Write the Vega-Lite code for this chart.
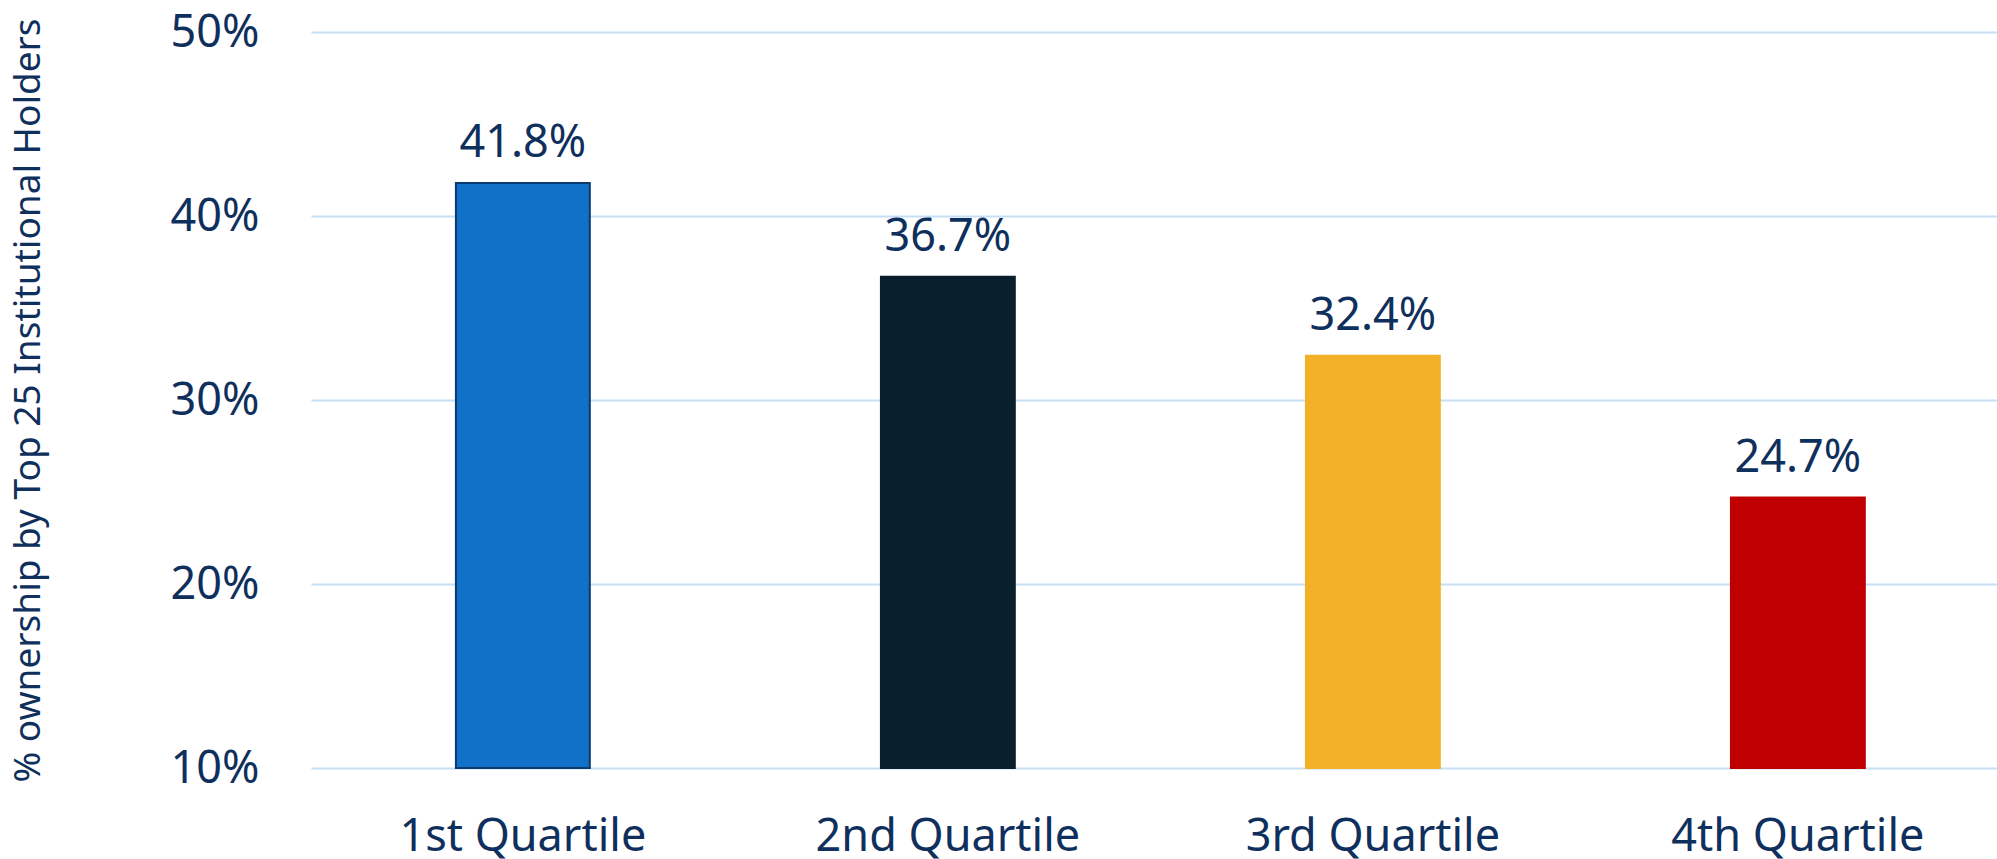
{
  "$schema": "https://vega.github.io/schema/vega-lite/v6.json",
  "autosize": {"type": "none"},
  "padding": {"left": 311, "top": 32, "right": 0, "bottom": 91},
  "width": 1686,
  "height": 736,
  "background": "white",
  "config": {"view": {"stroke": null}, "font": "Noto Sans"},
  "data": {"values": [
    {"quartile": "1st Quartile", "pct": 0.418},
    {"quartile": "2nd Quartile", "pct": 0.367},
    {"quartile": "3rd Quartile", "pct": 0.324},
    {"quartile": "4th Quartile", "pct": 0.247}
  ]},
  "encoding": {
    "x": {"field": "quartile", "type": "nominal", "sort": null,
      "scale": {"paddingInner": 0.685, "paddingOuter": 0.326, "align": 0.523},
      "axis": {"title": null, "labelAngle": 0, "domain": false, "ticks": false, "labelLimit": 0,
        "labelFont": "Noto Sans", "labelFontSize": 45, "labelColor": "#0F2F5C", "labelPadding": 46}},
    "y": {"field": "pct", "type": "quantitative",
      "scale": {"domain": [0.1, 0.5], "nice": false, "zero": false},
      "axis": {"title": "% ownership by Top 25 Institutional Holders", "titleFont": "Noto Sans",
        "titleFontSize": 37, "titleFontWeight": "normal", "titleColor": "#0F2F5C", "titlePadding": 123,
        "values": [0.1, 0.2, 0.3, 0.4, 0.5], "format": ".0%",
        "labelFont": "Noto Sans", "labelFontSize": 45, "labelColor": "#0F2F5C", "labelPadding": 52,
        "domain": false, "ticks": false, "grid": true, "gridColor": "#C5DDF5", "gridWidth": 2}}
  },
  "layer": [
    {"mark": {"type": "bar", "strokeWidth": 2},
      "encoding": {
        "y2": {"datum": 0.1},
        "color": {"field": "quartile", "type": "nominal", "legend": null,
          "scale": {"domain": ["1st Quartile", "2nd Quartile", "3rd Quartile", "4th Quartile"],
            "range": ["#1170C8", "#0A1F2C", "#F2B126", "#C00000"]}},
        "stroke": {"field": "quartile", "type": "nominal", "legend": null,
          "scale": {"domain": ["1st Quartile", "2nd Quartile", "3rd Quartile", "4th Quartile"],
            "range": ["#0B3A6E", "#0A1F2C", "#F2B126", "#C00000"]}}
      }},
    {"mark": {"type": "text", "baseline": "alphabetic", "dy": -26, "font": "Noto Sans", "fontSize": 45, "color": "#0F2F5C"},
      "encoding": {"text": {"field": "pct", "type": "quantitative", "format": ".1%"}}}
  ]
}
